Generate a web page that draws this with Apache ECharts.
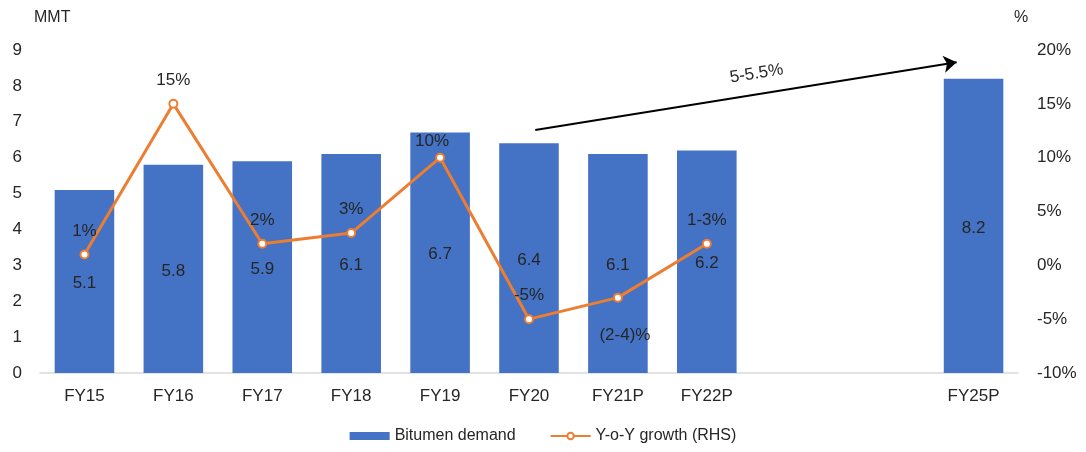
<!DOCTYPE html>
<html>
<head>
<meta charset="utf-8">
<script src="https://cdn.jsdelivr.net/npm/echarts@6/dist/echarts.min.js"></script>
<style>
  html, body { margin: 0; padding: 0; background: #fff; }
  #chart { width: 1086px; height: 452px; }
</style>
</head>
<body>
<div id="chart"></div>
<script>
// Fiscal years; two empty slots keep the gap before the FY25 projection
const categories = ['FY15', 'FY16', 'FY17', 'FY18', 'FY19', 'FY20', 'FY21P', 'FY22P', '', '', 'FY25P'];
// Bitumen demand, million metric tonnes
const demand = [5.1, 5.8, 5.9, 6.1, 6.7, 6.4, 6.1, 6.2, null, null, 8.2];
// Year-on-year growth, % (ranges plotted at their midpoint)
const growth = [1, 15, 2, 3, 10, -5, -3, 2, null, null, null];
const growthLabels = ['1%', '15%', '2%', '3%', '10%', '-5%', '(2-4)%', '1-3%', '', '', ''];
const growthLabelBelow = [false, false, false, false, false, false, true, false, false, false, false];
// CAGR arrow to FY25P: [slot position, MMT]
const cagrArrow = [[5.57, 6.77], [10.31, 8.66]];
const cagrText = '5-5.5%';
const leftTicks = [0, 9, 1];
const rightTicks = [-10, 20, 5];

const FONT = '"Liberation Sans", Arial, sans-serif';
const TEXT = '#262626';

// per-point label tweaks for the growth line
function growthLabel(i) {
  if (growthLabelBelow[i]) return { position: 'bottom', distance: 24, offset: [7, 0] };
  if (growthLabels[i] === '10%') return { position: 'top', distance: 3, offset: [-8, 0] };
  return { position: 'top', distance: 10 };
}

const chart = echarts.init(document.getElementById('chart'), null, { renderer: 'canvas' });

chart.setOption({
  animation: false,
  textStyle: { fontFamily: FONT, color: TEXT },
  grid: { left: 40, right: 68, top: 50, bottom: 79 },
  legend: {
    bottom: 3,
    left: 'center',
    data: [
      { name: 'Bitumen demand', icon: 'rect' },
      { name: 'Y-o-Y growth (RHS)' }
    ],
    itemWidth: 40,
    itemHeight: 8,
    itemGap: 34,
    textStyle: { fontFamily: FONT, fontSize: 16, color: TEXT }
  },
  xAxis: [
    {
      type: 'category',
      data: categories,
      axisLine: { show: true, lineStyle: { color: '#d9d9d9', width: 1.5 } },
      axisTick: { show: false },
      axisLabel: { fontFamily: FONT, fontSize: 17, color: TEXT, margin: 15, interval: 0 }
    },
    {
      type: 'value',
      min: 0,
      max: 11,
      show: false
    }
  ],
  yAxis: [
    {
      type: 'value',
      min: leftTicks[0],
      max: leftTicks[1],
      interval: leftTicks[2],
      name: 'MMT',
      nameLocation: 'end',
      nameGap: 24,
      nameTextStyle: { fontFamily: FONT, fontSize: 16, color: TEXT, align: 'left', padding: [0, 0, 0, -6] },
      axisLine: { show: false },
      axisTick: { show: false },
      splitLine: { show: false },
      axisLabel: { fontFamily: FONT, fontSize: 17, color: TEXT, margin: 18 }
    },
    {
      type: 'value',
      min: rightTicks[0],
      max: rightTicks[1],
      interval: rightTicks[2],
      name: '%',
      nameLocation: 'end',
      nameGap: 24,
      nameTextStyle: { fontFamily: FONT, fontSize: 16, color: TEXT, align: 'left', padding: [0, 0, 0, -4] },
      axisLine: { show: false },
      axisTick: { show: false },
      splitLine: { show: false },
      axisLabel: { fontFamily: FONT, fontSize: 17, color: TEXT, margin: 19, formatter: '{value}%' }
    }
  ],
  series: [
    {
      name: 'Bitumen demand',
      type: 'bar',
      xAxisIndex: 0,
      yAxisIndex: 0,
      data: demand,
      barWidth: '67%',
      itemStyle: { color: '#4472C4' },
      label: {
        show: true,
        position: 'inside',
        offset: [0, 2],
        fontFamily: FONT,
        fontSize: 17,
        color: TEXT,
        formatter: p => p.value.toFixed(1)
      },
      z: 2
    },
    {
      name: 'Y-o-Y growth (RHS)',
      type: 'line',
      xAxisIndex: 0,
      yAxisIndex: 1,
      data: growth.map((v, i) => ({ value: v, label: growthLabel(i) })),
      symbol: 'circle',
      symbolSize: 8,
      showAllSymbol: true,
      connectNulls: false,
      lineStyle: { color: '#ED7D31', width: 3 },
      itemStyle: { color: '#fff', borderColor: '#ED7D31', borderWidth: 2 },
      label: {
        show: true,
        fontFamily: FONT,
        fontSize: 17,
        color: TEXT,
        formatter: p => growthLabels[p.dataIndex]
      },
      z: 3
    },
    {
      type: 'lines',
      coordinateSystem: 'cartesian2d',
      xAxisIndex: 1,
      yAxisIndex: 0,
      data: [{ coords: cagrArrow }],
      symbol: ['none', 'arrow'],
      symbolSize: 13,
      lineStyle: { color: '#000', width: 2, opacity: 1 },
      label: {
        show: true,
        position: 'middle',
        distance: 12,
        padding: [0, 0, 0, 28],
        fontFamily: FONT,
        fontSize: 17,
        color: TEXT,
        formatter: cagrText
      },
      silent: true,
      z: 4
    }
  ]
});
</script>
</body>
</html>
